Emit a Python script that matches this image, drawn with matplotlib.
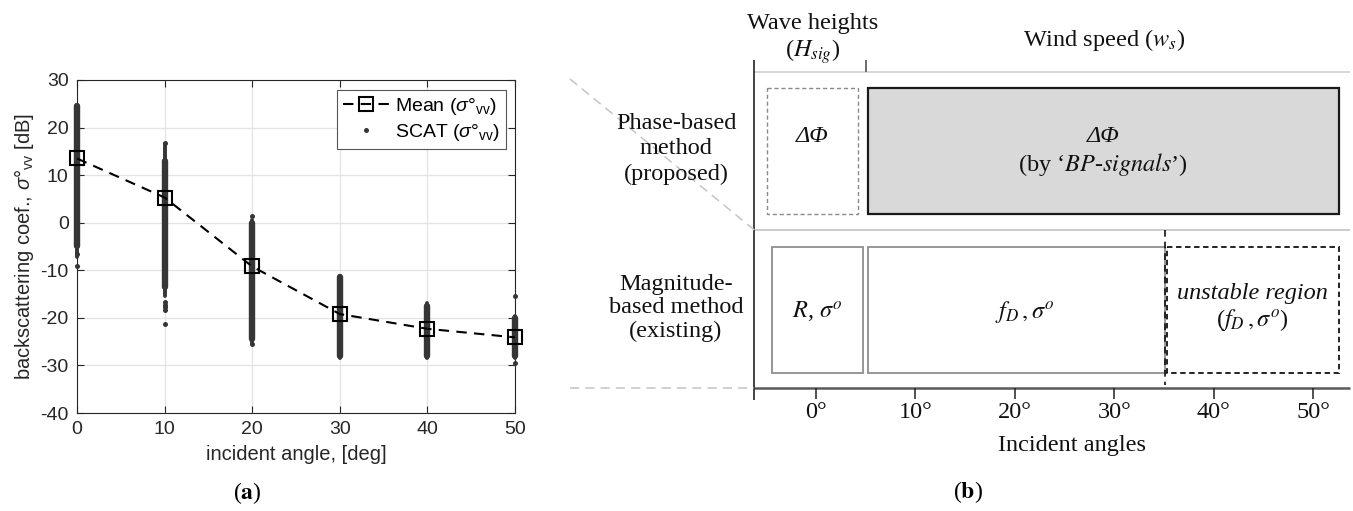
"""Two-panel figure: SCAT backscatter vs incidence angle, and method coverage schematic."""

import matplotlib

matplotlib.use("Agg")
import matplotlib.pyplot as plt
from matplotlib.patches import Rectangle

plt.rcParams["font.family"] = ["Liberation Sans", "DejaVu Sans"]
plt.rcParams["mathtext.fontset"] = "custom"
plt.rcParams["mathtext.rm"] = "Liberation Sans"
plt.rcParams["mathtext.it"] = "Liberation Sans:italic"
plt.rcParams["axes.unicode_minus"] = False

# ---- panel (a) data -------------------------------------------------------
angles = [0, 10, 20, 30, 40, 50]
mean_sigma = [13.5, 5.3, -9.2, -19.2, -22.3, -24.1]
# dense part of each SCAT column (low, high) in dB
dense_lo = [-5.0, -13.5, -24.5, -28.0, -28.0, -28.0]
dense_hi = [24.5, 13.0, 0.0, -11.5, -17.5, -20.0]
# thinner upper/lower stretches of each column
thin_lo = [-7.3, -15.5, -25.3, -28.4, -28.4, -28.4]
thin_hi = [24.7, 16.5, 0.5, -11.2, -16.9, -19.7]
# isolated samples
iso_x = [0, 0, 10, 10, 10, 10, 10, 10, 20, 20, 50, 50]
iso_y = [-9.1, -6.5, 16.8, -16.6, -17.2, -17.8, -18.4, -21.3, 1.4, -25.6, -15.5, -29.5]

# ---- panel (b) data -------------------------------------------------------
deg_ticks = [0, 10, 20, 30, 40, 50]
axis_span = (-6.2, 53.7)
hsig_split = 5.0
unstable_from = 35.1
phase_hsig_box = (-4.9, 4.2)
phase_ws_box = (5.2, 52.6)
mag_r_box = (-4.4, 4.7)
mag_fd_box = (5.2, 35.1)
mag_unstable_box = (35.3, 52.6)

W, H = 1353, 511
fig = plt.figure(figsize=(W / 100, H / 100), dpi=100)

# ---------------------------------------------------------------- panel (a)
ink = "#262626"
dot = "#363636"
ax = fig.add_axes([77 / W, (H - 413) / H, (515 - 77) / W, (413 - 80) / H])
ax.set_xlim(0, 50)
ax.set_ylim(-40, 30)
ax.set_xticks(angles)
ax.set_yticks(range(-40, 31, 10))
ax.grid(True, color="#e3e3e3", lw=0.9)
ax.set_axisbelow(True)
ax.tick_params(direction="in", top=True, right=True, length=5, width=0.8,
               colors=ink, labelsize=14, pad=6)
for s in ax.spines.values():
    s.set_color(ink)
    s.set_linewidth(0.8)

ax.vlines(angles, thin_lo, thin_hi, color=dot, lw=2.8, capstyle="round",
          clip_on=False, zorder=3)
ax.vlines(angles, dense_lo, dense_hi, color=dot, lw=4.6, capstyle="round",
          clip_on=False, zorder=3)
ax.plot(iso_x, iso_y, "o", color=dot, ms=3.6, mew=0, clip_on=False, zorder=3)
ax.plot(angles, mean_sigma, "--s", color="black", lw=1.5, ms=10,
        mfc="none", mew=1.5, dashes=(5, 3.5), clip_on=False, zorder=4,
        label=r"Mean ($\sigma$°$_{\mathrm{vv}}$)")
ax.plot([], [], "o", color=dot, ms=3.6, mew=0, label=r"SCAT ($\sigma$°$_{\mathrm{vv}}$)")
leg = ax.legend(loc="upper right", fontsize=14, frameon=True, fancybox=False,
                framealpha=1, edgecolor="#555555", handlelength=2.4,
                borderpad=0.3, labelspacing=0.25, handletextpad=0.3,
                borderaxespad=0, bbox_to_anchor=(0.98, 0.97))
leg.get_frame().set_linewidth(0.8)

ax.set_xlabel("incident angle, [deg]", fontsize=14.5, color=ink, labelpad=5)
ax.set_ylabel(r"backscattering coef., $\sigma$°$_{\mathrm{vv}}$ [dB]",
              fontsize=14.5, color=ink, labelpad=3)
fig.text(247 / W, 1 - 493 / H, r"($\mathbf{a}$)", ha="center", va="center",
         fontsize=17, family="Liberation Serif", math_fontfamily="stix")

# ---------------------------------------------------------------- panel (b)
x0_px = 560
px_per_deg = 9.94
zero_px = 816
bx = fig.add_axes([x0_px / W, 0, (W - x0_px) / W, 1])
bx.set_xlim((x0_px - zero_px) / px_per_deg, (W - zero_px) / px_per_deg)
bx.set_ylim(H, 0)
bx.axis("off")

serif = dict(family="Liberation Serif", math_fontfamily="stix", color="#111111")
fs = 17.5

y_top, y_mid, y_axis = 72, 230, 388
row1 = (88, 214)
row2 = (247, 373)

# frame lines
bx.hlines(y_top, axis_span[0], axis_span[1], color="#cfcfcf", lw=1.2)
bx.hlines(y_mid, axis_span[0], axis_span[1], color="#c4c4c4", lw=1.2)
bx.hlines(y_axis, axis_span[0], axis_span[1], color="#5a5a5a", lw=1.8)
bx.vlines(axis_span[0], 60, 400, color="#222222", lw=1.2)
bx.vlines(hsig_split, 60, y_top, color="#555555", lw=1.2)
bx.vlines(deg_ticks, y_axis, y_axis + 11, color="#222222", lw=1.1)
for d in deg_ticks:
    bx.text(d, 413, f"{d}°", ha="center", va="center", fontsize=fs, **serif)

# guide lines to the left of the frame
left_deg = (570 - zero_px) / px_per_deg
bx.plot([left_deg, axis_span[0]], [79, y_mid], ls=(0, (6, 4)), color="#c4c4c4",
        lw=1.1, clip_on=False)
bx.plot([left_deg, axis_span[0]], [y_axis, y_axis], ls=(0, (6, 4)),
        color="#c4c4c4", lw=1.1, clip_on=False)


def box(span, rows, **kw):
    bx.add_patch(Rectangle((span[0], rows[0]), span[1] - span[0],
                           rows[1] - rows[0], **kw))


box(phase_hsig_box, row1, fill=False, ec="#8a8a8a", lw=1.0, ls=(0, (3, 2)))
box(phase_ws_box, row1, fc="#d9d9d9", ec="#1a1a1a", lw=1.6)
box(mag_r_box, row2, fill=False, ec="#8f8f8f", lw=1.3)
box(mag_fd_box, row2, fill=False, ec="#8f8f8f", lw=1.3)
box(mag_unstable_box, row2, fill=False, ec="#111111", lw=1.3, ls=(0, (3, 2)))
bx.vlines(unstable_from, y_mid, 385, color="#111111", lw=1.2, ls=(0, (4, 3)))

# headers
bx.text(-0.3, 24, "Wave heights", ha="center", va="center", fontsize=fs, **serif)
bx.text(-0.3, 52, r"($H_{sig}$)", ha="center", va="center", fontsize=fs, **serif)
bx.text(29.0, 40, r"Wind speed ($w_s$)", ha="center", va="center", fontsize=fs, **serif)

# row labels
lab_x = (676 - zero_px) / px_per_deg
bx.text(lab_x, 149, "Phase-based\nmethod\n(proposed)", ha="center", va="center",
        fontsize=fs, linespacing=1.3, **serif)
bx.text(lab_x, 308, "Magnitude-\nbased method\n(existing)", ha="center",
        va="center", fontsize=fs, linespacing=1.15, **serif)

# box contents
delta_phi = dict(ha="center", va="center", fontsize=fs, style="italic", **serif)
bx.text(sum(phase_hsig_box) / 2, 137, "ΔΦ", **delta_phi)
bx.text(sum(phase_ws_box) / 2, 137, "ΔΦ", **delta_phi)
bx.text(sum(phase_ws_box) / 2, 164, r"(by ‘$\mathit{BP}$-$\mathit{signals}$’)",
        ha="center", va="center", fontsize=fs, **serif)
bx.text(sum(mag_r_box) / 2, 312, r"$R$, $\sigma^{o}$", ha="center", va="center",
        fontsize=fs, **serif)
bx.text(21.0, 312, r"$f_D\,, \sigma^{o}$", ha="center", va="center",
        fontsize=fs, **serif)
bx.text(sum(mag_unstable_box) / 2, 293, "unstable region", ha="center",
        va="center", fontsize=fs, style="italic", **serif)
bx.text(sum(mag_unstable_box) / 2, 320, r"($f_D\,, \sigma^{o}$)", ha="center",
        va="center", fontsize=fs, **serif)

bx.text(25.8, 446, "Incident angles", ha="center", va="center", fontsize=fs, **serif)
bx.text(15.3, 492, r"($\mathbf{b}$)", ha="center", va="center", fontsize=17,
        family="Liberation Serif", math_fontfamily="stix")

fig.savefig("out.png", dpi=100)
